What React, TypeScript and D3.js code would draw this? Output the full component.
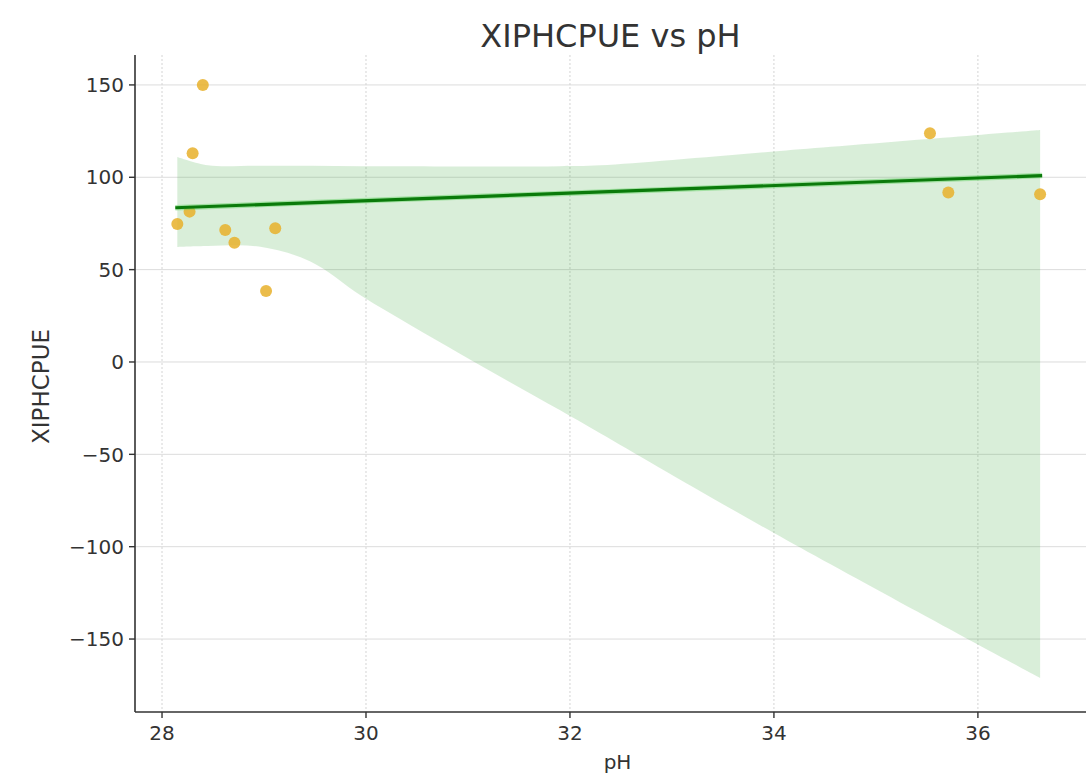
import React from 'react';
import * as d3 from 'd3';

// observed points (pH, XIPHCPUE)
const phValues = [28.40, 28.30, 28.15, 28.27, 28.62, 28.71, 29.11, 29.02, 35.53, 35.71, 36.61];
const cpueValues = [150.0, 113.0, 74.7, 81.4, 71.5, 64.6, 72.4, 38.4, 123.8, 91.7, 90.8];

// fitted regression line endpoints
const fitX = [28.13, 36.63];
const fitY = [83.5, 100.9];

// confidence band
const bandX = [28.15, 28.45, 28.95, 29.45, 29.95, 30.45, 30.9, 31.4, 31.9, 32.3, 34.0, 36.61];
const bandLower = [62.3, 62.8, 62.5, 54.5, 36.0, 19.5, 5.2, -10.5, -26.0, -38.7, -92.6, -171.1];
const bandUpper = [111.0, 106.5, 106.3, 106.2, 106.0, 106.0, 105.8, 105.8, 106.0, 106.5, 114.0, 125.6];

const xTicks = [28, 30, 32, 34, 36];
const yTicks = [150, 100, 50, 0, -50, -100, -150];

const W = 1088;
const H = 780;
const PLOT = { left: 135, right: 1086, top: 55, bottom: 712 };
const FONT = '"DejaVu Sans", sans-serif';

export default function App() {
  const x = d3.scaleLinear().domain([27.735, 37.06]).range([PLOT.left, PLOT.right]);
  const y = d3.scaleLinear().domain([-189.5, 166.2]).range([PLOT.bottom, PLOT.top]);

  const band = bandX.map((v, i) => ({ x: v, lo: bandLower[i], hi: bandUpper[i] }));
  const area = d3.area<{ x: number; lo: number; hi: number }>()
    .x(d => x(d.x))
    .y0(d => y(d.lo))
    .y1(d => y(d.hi))
    .curve(d3.curveCatmullRom.alpha(0.5));

  const fit = fitX.map((v, i) => [x(v), y(fitY[i])] as [number, number]);
  const line = d3.line();

  const fmt = (v: number) => (v < 0 ? '\u2212' + Math.abs(v) : String(v));

  return (
    <svg width={W} height={H} style={{ position: 'absolute', left: 0, top: 0, background: '#fff' }}
      fontFamily={FONT}>
      {/* grid */}
      {yTicks.map(t => (
        <line key={'gy' + t} x1={PLOT.left} x2={PLOT.right} y1={y(t)} y2={y(t)}
          stroke="#dcdcdc" strokeWidth={1} />
      ))}
      {xTicks.map(t => (
        <line key={'gx' + t} x1={x(t)} x2={x(t)} y1={PLOT.top} y2={PLOT.bottom}
          stroke="#d4d4d4" strokeWidth={1} strokeDasharray="2,2" />
      ))}

      {/* confidence band */}
      <path d={area(band) || ''} fill="#2ca02c" fillOpacity={0.18} />

      {/* points */}
      {phValues.map((v, i) => (
        <circle key={'p' + i} cx={x(v)} cy={y(cpueValues[i])} r={6}
          fill="#e8b02a" fillOpacity={0.85} />
      ))}

      {/* regression line */}
      <path d={line(fit) || ''} stroke="#5fd05f" strokeWidth={5.5} strokeOpacity={0.45} fill="none" />
      <path d={line(fit) || ''} stroke="#0a7a0a" strokeWidth={3.2} fill="none" />

      {/* spines */}
      <line x1={PLOT.left} x2={PLOT.left} y1={PLOT.top} y2={PLOT.bottom} stroke="#333" strokeWidth={1.6} />
      <line x1={PLOT.left} x2={PLOT.right} y1={PLOT.bottom} y2={PLOT.bottom} stroke="#333" strokeWidth={1.6} />

      {/* x ticks */}
      {xTicks.map(t => (
        <g key={'xt' + t} transform={`translate(${x(t)},${PLOT.bottom})`}>
          <line y1={0} y2={6} stroke="#333" strokeWidth={1.4} />
          <text y={28} textAnchor="middle" fontSize={20} fill="#333">{fmt(t)}</text>
        </g>
      ))}

      {/* y ticks */}
      {yTicks.map(t => (
        <g key={'yt' + t} transform={`translate(${PLOT.left},${y(t)})`}>
          <line x1={0} x2={-6} stroke="#333" strokeWidth={1.4} />
          <text x={-11} dy="0.36em" textAnchor="end" fontSize={20} fill="#333">{fmt(t)}</text>
        </g>
      ))}

      {/* labels */}
      <text x={(PLOT.left + PLOT.right) / 2} y={47} textAnchor="middle" fontSize={32} fill="#333">
        XIPHCPUE vs pH
      </text>
      <text x={(PLOT.left + PLOT.right) / 2 + 7} y={769} textAnchor="middle" fontSize={20} fill="#333">pH</text>
      <text transform={`translate(49,${(PLOT.top + PLOT.bottom) / 2 + 3}) rotate(-90)`} textAnchor="middle"
        fontSize={23} fill="#333">XIPHCPUE</text>
    </svg>
  );
}
